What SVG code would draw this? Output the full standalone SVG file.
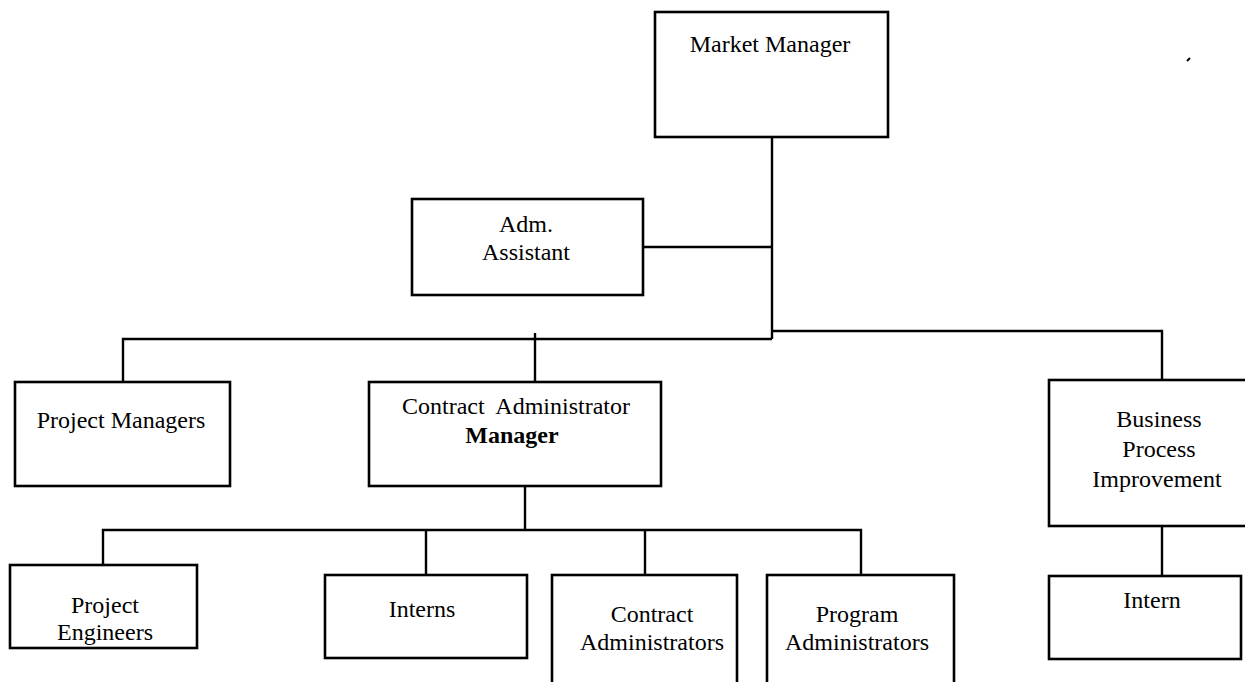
<svg xmlns="http://www.w3.org/2000/svg" width="1245" height="682" viewBox="0 0 1245 682">
  <style>
    .box { fill: #ffffff; stroke: #000000; stroke-width: 2.6; }
    .wire { fill: none; stroke: #000000; stroke-width: 2.4; }
    .label { font-family: "Liberation Serif", "Times New Roman", serif; font-size: 24px; fill: #000000; text-anchor: middle; }
    .strong { font-weight: bold; }
  </style>
  <rect x="0" y="0" width="1245" height="682" fill="#ffffff"/>

  <!-- reporting lines -->
  <g id="connectors">
    <path class="wire" d="M772,137 V339"/>
    <path class="wire" d="M643,247 H772"/>
    <path class="wire" d="M123,382 V339 H772"/>
    <path class="wire" d="M535,333 V382"/>
    <path class="wire" d="M772,331 H1162 V380"/>
    <path class="wire" d="M525,486 V530"/>
    <path class="wire" d="M103,565 V530 H861 V575"/>
    <path class="wire" d="M426,530 V575"/>
    <path class="wire" d="M645,530 V575"/>
    <path class="wire" d="M1162,526 V576"/>
  </g>

  <g id="market-manager">
    <rect class="box" x="655" y="12" width="233" height="125"/>
    <text class="label" x="770" y="52">Market Manager</text>
  </g>

  <g id="adm-assistant">
    <rect class="box" x="412" y="199" width="231" height="96"/>
    <text class="label" x="526" y="232">Adm.</text>
    <text class="label" x="526" y="260">Assistant</text>
  </g>

  <g id="project-managers">
    <rect class="box" x="15" y="382" width="215" height="104"/>
    <text class="label" x="121" y="428">Project Managers</text>
  </g>

  <g id="contract-administrator-manager">
    <rect class="box" x="369" y="382" width="292" height="104"/>
    <text class="label" x="516" y="414" xml:space="preserve">Contract  Administrator</text>
    <text class="label strong" x="512" y="443">Manager</text>
  </g>

  <g id="business-process-improvement">
    <rect class="box" x="1049" y="380" width="210" height="146"/>
    <text class="label" x="1159" y="427">Business</text>
    <text class="label" x="1159" y="457">Process</text>
    <text class="label" x="1157" y="487">Improvement</text>
  </g>

  <g id="project-engineers">
    <rect class="box" x="10" y="565" width="187" height="83"/>
    <text class="label" x="105" y="613">Project</text>
    <text class="label" x="105" y="640">Engineers</text>
  </g>

  <g id="interns">
    <rect class="box" x="325" y="575" width="202" height="83"/>
    <text class="label" x="422" y="617">Interns</text>
  </g>

  <g id="contract-administrators">
    <rect class="box" x="552" y="575" width="185" height="130"/>
    <text class="label" x="652" y="622">Contract</text>
    <text class="label" x="652" y="650">Administrators</text>
  </g>

  <g id="program-administrators">
    <rect class="box" x="767" y="575" width="187" height="130"/>
    <text class="label" x="857" y="622">Program</text>
    <text class="label" x="857" y="650">Administrators</text>
  </g>

  <g id="intern">
    <rect class="box" x="1049" y="576" width="192" height="83"/>
    <text class="label" x="1152" y="608">Intern</text>
  </g>

  <!-- small stray mark at the top right -->
  <path d="M1187,61 L1190,58" stroke="#000000" stroke-width="2" fill="none"/>
</svg>
